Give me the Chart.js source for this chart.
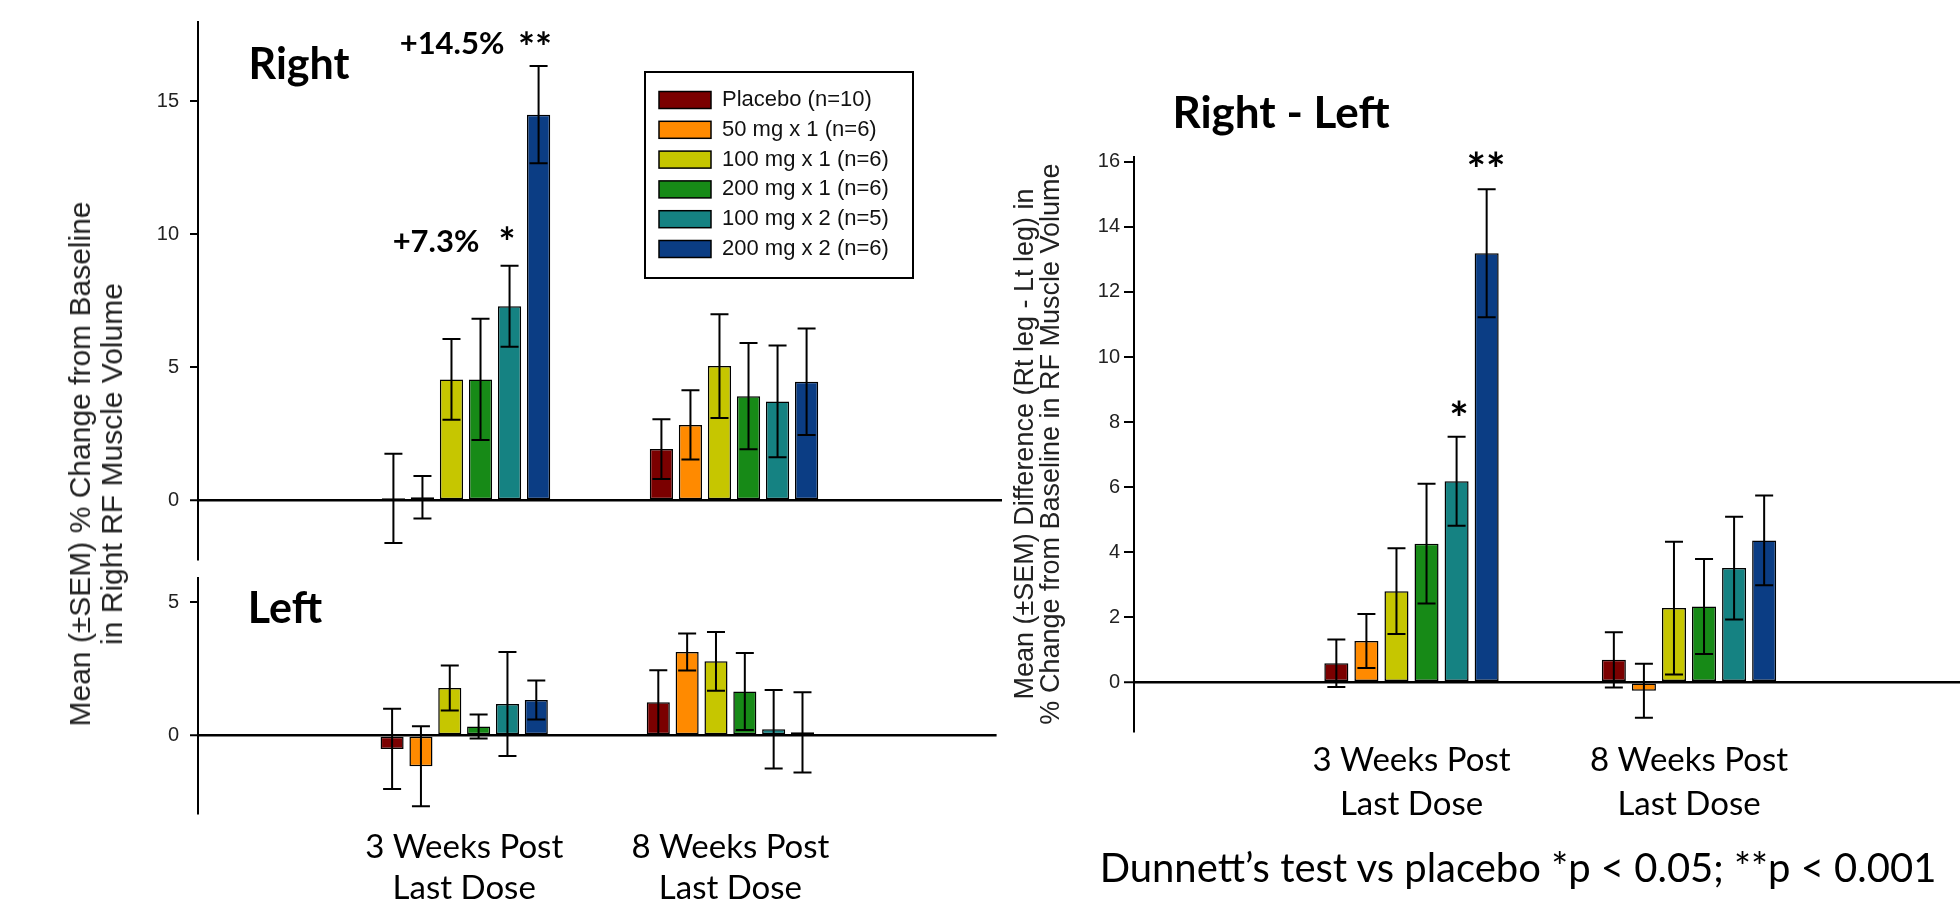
<!DOCTYPE html>
<html>
<head>
<meta charset="utf-8">
<script src="https://cdn.jsdelivr.net/npm/chart.js@4.4.1/dist/chart.umd.min.js"></script>
<style>
  html, body { margin: 0; padding: 0; background: #fff; overflow: hidden; }
  #page { position: relative; width: 1960px; height: 899px; overflow: hidden; background: #fff; }
  canvas { position: absolute; }
  .note { position: absolute; font-family: Lato, "Open Sans", sans-serif; color: #000;
          white-space: nowrap; line-height: 1; transform: translate(-50%, -50%); }
  .b { font-weight: 700; }
  .ytitle { position: absolute; font-family: "Liberation Sans", Arial, sans-serif; color: #222;
            text-align: center; white-space: nowrap; transform: translate(-50%, -50%) rotate(-90deg); }
</style>
</head>
<body>
<div id="page">
  <canvas id="rightLeft" width="973" height="899" style="left:1000px;top:0"></canvas>
  <canvas id="leftLeg" width="1010" height="353" style="left:0;top:560px"></canvas>
  <canvas id="rightLeg" width="1010" height="562" style="left:0;top:0"></canvas>

  <div class="ytitle" style="left:96px;top:464px;font-size:30px;line-height:32px">Mean (±SEM) % Change from Baseline<br>in Right RF Muscle Volume</div>

  <div class="note b" style="left:299px;top:62px;font-size:43px">Right</div>
  <div class="note b" style="left:452px;top:42px;font-size:31px">+14.5%</div>
  <div class="note b" style="left:535px;top:47px;font-size:40px">**</div>
  <div class="note b" style="left:436px;top:240px;font-size:31px">+7.3%</div>
  <div class="note b" style="left:507px;top:242px;font-size:40px">*</div>
  <div class="note b" style="left:285px;top:606px;font-size:43px">Left</div>
  <div class="note b" style="left:1281px;top:111px;font-size:44px">Right - Left</div>
  <div class="note b" style="left:1486px;top:169px;font-size:46px">**</div>
  <div class="note b" style="left:1459px;top:418px;font-size:46px">*</div>
  <div class="note" style="left:1518px;top:867px;font-size:40px">Dunnett’s test vs placebo *p &lt; 0.05; **p &lt; 0.001</div>
</div>

<script>
// x categories: empty slots at both ends put the two time points at 1/3 and 2/3 of the axis
const CATEGORIES = ['', ['3 Weeks Post', 'Last Dose'], ['8 Weeks Post', 'Last Dose'], ''];
const GROUPS = ['Placebo (n=10)', '50 mg x 1 (n=6)', '100 mg x 1 (n=6)',
                '200 mg x 1 (n=6)', '100 mg x 2 (n=5)', '200 mg x 2 (n=6)'];
const COLORS = ['#7b0000', '#ff8a00', '#c6c600', '#178a17', '#158282', '#0b3d84'];

// [3 weeks, 8 weeks] for each dose group
const RIGHT_MEAN = [[0.08, 1.93], [0.12, 2.84], [4.55, 5.05], [4.55, 3.92], [7.3, 3.72], [14.5, 4.46]];
const RIGHT_SEM  = [[1.68, 1.12], [0.8, 1.3], [1.52, 1.95], [2.28, 2.0], [1.52, 2.1], [1.83, 2.0]];

const LEFT_MEAN = [[-0.5, 1.25], [-1.15, 3.13], [1.78, 2.78], [0.34, 1.65], [1.18, 0.24], [1.33, 0.12]];
const LEFT_SEM  = [[1.5, 1.2], [1.5, 0.69], [0.84, 1.1], [0.45, 1.44], [1.95, 1.47], [0.73, 1.5]];

const DIFF_MEAN = [[0.58, 0.69], [1.27, -0.26], [2.8, 2.28], [4.26, 2.33], [6.18, 3.51], [13.19, 4.36]];
const DIFF_SEM  = [[0.73, 0.85], [0.83, 0.83], [1.32, 2.04], [1.84, 1.46], [1.37, 1.58], [1.97, 1.38]];

const RIGHT_TICKS = [0, 5, 10, 15];
const LEFT_TICKS = [0, 5];
const DIFF_TICKS = [0, 2, 4, 6, 8, 10, 12, 14, 16];

const TICK_FONT = { family: '"Liberation Sans", Arial, sans-serif', size: 20 };
const CAP = 9;

const errorBars = {
  id: 'errorBars',
  afterDatasetsDraw(chart) {
    const { ctx } = chart;
    const y = chart.scales.y;
    ctx.save();
    ctx.strokeStyle = '#000';
    ctx.lineWidth = 2;
    chart.data.datasets.forEach((ds, i) => {
      chart.getDatasetMeta(i).data.forEach((bar, j) => {
        const v = ds.data[j];
        if (v == null) return;
        const hi = y.getPixelForValue(v + ds.sem[j]);
        const lo = y.getPixelForValue(v - ds.sem[j]);
        ctx.beginPath();
        ctx.moveTo(bar.x, hi); ctx.lineTo(bar.x, lo);
        ctx.moveTo(bar.x - CAP, hi); ctx.lineTo(bar.x + CAP, hi);
        ctx.moveTo(bar.x - CAP, lo); ctx.lineTo(bar.x + CAP, lo);
        ctx.stroke();
      });
    });
    ctx.restore();
  }
};

const legendBox = {
  id: 'legendBox',
  afterDraw(chart) {
    const { ctx } = chart;
    ctx.save();
    ctx.strokeStyle = '#000';
    ctx.lineWidth = 2;
    ctx.strokeRect(645, 72, 268, 206);
    ctx.font = '22px "Liberation Sans", Arial, sans-serif';
    ctx.textBaseline = 'middle';
    chart.data.datasets.forEach((ds, i) => {
      const yc = 100 + i * 29.8;
      ctx.fillStyle = ds.backgroundColor;
      ctx.fillRect(659, yc - 8.5, 52, 17);
      ctx.lineWidth = 1.5;
      ctx.strokeRect(659, yc - 8.5, 52, 17);
      ctx.fillStyle = '#111';
      ctx.fillText(ds.label, 722, yc);
    });
    ctx.restore();
  }
};

function datasets(means, sems) {
  return GROUPS.map((g, i) => ({
    label: g,
    data: [null, means[i][0], means[i][1], null],
    sem: [null, sems[i][0], sems[i][1], null],
    backgroundColor: COLORS[i],
    borderColor: '#000',
    borderWidth: 1.5,
    borderSkipped: false,
    categoryPercentage: 0.65,
    barPercentage: 0.8,
  }));
}

function yScale(min, max, ticks, width, tickLength, pad) {
  return {
    min, max,
    afterBuildTicks: (s) => { s.ticks = ticks.map((v) => ({ value: v })); },
    afterFit: (s) => { s.width = width; s.paddingTop = 0; s.paddingBottom = 0; },
    border: { display: true, color: '#000', width: 2 },
    grid: {
      color: (c) => (c.tick && c.tick.value === 0 ? '#000' : 'rgba(0,0,0,0)'),
      lineWidth: (c) => (c.tick && c.tick.value === 0 ? 2.5 : 0),
      tickColor: '#000',
      tickWidth: 2,
      tickLength,
    },
    ticks: { font: TICK_FONT, color: '#222', padding: pad },
  };
}

function xScale(show, height, pad, lineHeight) {
  return {
    type: 'category',
    offset: false,
    display: show,
    afterFit: (s) => { if (show) s.height = height; },
    border: { display: false },
    grid: { display: false, drawTicks: false },
    ticks: {
      autoSkip: false, maxRotation: 0, padding: pad, color: '#000',
      font: { family: 'Lato, "Open Sans", sans-serif', size: 33, lineHeight },
    },
  };
}

function makeChart(id, means, sems, scales, padding, plugins) {
  return new Chart(document.getElementById(id), {
    type: 'bar',
    data: { labels: CATEGORIES, datasets: datasets(means, sems) },
    options: {
      responsive: false,
      animation: false,
      events: [],
      layout: { padding },
      plugins: { legend: { display: false }, tooltip: { enabled: false } },
      scales,
    },
    plugins,
  });
}

makeChart('rightLeg', RIGHT_MEAN, RIGHT_SEM,
  { x: xScale(false, 0, 0, 1.25), y: yScale(-2.2, 18, RIGHT_TICKS, 198, 8, 11) },
  { top: 21.5, right: 8, bottom: 3, left: 0 },
  [errorBars, legendBox]);

makeChart('leftLeg', LEFT_MEAN, LEFT_SEM,
  { x: xScale(true, 100, 13.4, 1.25), y: yScale(-2.9, 5.9, LEFT_TICKS, 198, 8, 11) },
  { top: 18, right: 8, bottom: 0, left: 0 },
  [errorBars]);

const diffY = yScale(-1.5, 16.15, DIFF_TICKS, 134, 10, 4);
diffY.title = {
  display: true,
  text: ['Mean (±SEM) Difference (Rt leg - Lt leg) in', '% Change from Baseline in RF Muscle Volume'],
  font: { family: '"Liberation Sans", Arial, sans-serif', size: 27, lineHeight: '26px' },
  color: '#222',
  padding: { top: 13, bottom: 0 },
};
makeChart('rightLeft', DIFF_MEAN, DIFF_SEM,
  { x: xScale(true, 168, 6.5, 1.36), y: diffY },
  { top: 157, right: 0, bottom: 0, left: 0 },
  [errorBars]);
</script>
</body>
</html>
